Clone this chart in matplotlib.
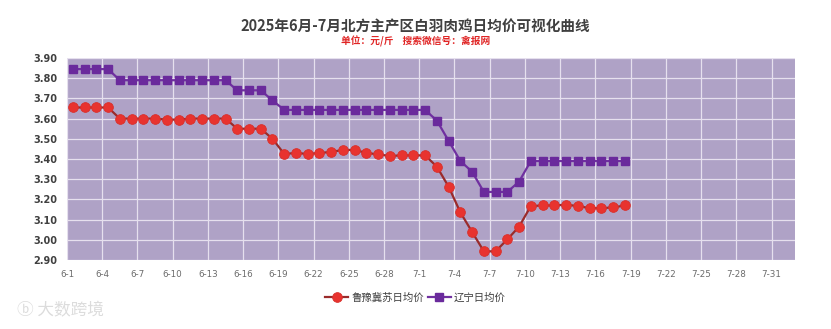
import matplotlib.pyplot as plt
import numpy as np
import pandas as pd

plt.rcParams['font.family'] = ['Noto Sans CJK SC', 'DejaVu Sans']

# axis covers 6-1 .. 7-31, one category per day
axis_start = '2025-06-01'
axis_end = '2025-07-31'

# daily prices from 6-1 to 7-18, yuan per jin
lu_yu_ji_su = [3.655, 3.655, 3.655, 3.655, 3.60, 3.60, 3.60, 3.60, 3.595, 3.595,
               3.60, 3.60, 3.60, 3.60, 3.55, 3.55, 3.55, 3.50, 3.425, 3.43,
               3.425, 3.43, 3.435, 3.445, 3.445, 3.43, 3.423, 3.415, 3.418, 3.418,
               3.418, 3.362, 3.263, 3.136, 3.039, 2.943, 2.943, 3.002, 3.065, 3.167,
               3.17, 3.17, 3.174, 3.167, 3.157, 3.157, 3.16, 3.17]
liaoning = [3.845, 3.845, 3.845, 3.845, 3.79, 3.79, 3.79, 3.79, 3.79, 3.79,
            3.79, 3.79, 3.79, 3.79, 3.74, 3.74, 3.74, 3.69, 3.643, 3.643,
            3.643, 3.643, 3.643, 3.643, 3.643, 3.643, 3.643, 3.643, 3.643, 3.643,
            3.643, 3.59, 3.49, 3.39, 3.337, 3.237, 3.237, 3.237, 3.288, 3.39,
            3.39, 3.39, 3.39, 3.39, 3.39, 3.39, 3.39, 3.39]

labels = ['鲁豫冀苏日均价', '辽宁日均价']

days = pd.date_range(axis_start, axis_end)
tick_labels = [f'{d.month}-{d.day}' for d in days]
n_cat = len(days)

fig = plt.figure(figsize=(8.31, 3.29), dpi=100)
ax = fig.add_axes([0.0806, 0.2097, 0.8761, 0.614])
ax.set_facecolor('#afa2c6')

x = np.arange(len(lu_yu_ji_su)) + 0.5
ax.plot(x, lu_yu_ji_su, color='#9a2b2b', lw=1.6, marker='o', ms=7,
        mfc='#e8332f', mec='#d8302c', mew=0.6, label=labels[0], zorder=3)
ax.plot(x, liaoning, color='#7030a0', lw=1.6, marker='s', ms=5.8,
        mfc='#6a2a9c', mec='#6a2a9c', label=labels[1], zorder=3)

ax.set_xlim(0, n_cat + 1)
ax.set_ylim(2.90, 3.90)
yvals = np.round(np.arange(2.90, 3.91, 0.10), 2)
ax.set_yticks(yvals)
ax.set_yticklabels([f'{v:.2f}' for v in yvals],
                   fontsize=7, fontweight='bold', color='#404040', family='DejaVu Sans')
ticks = list(range(0, n_cat, 3))
ax.set_xticks(ticks)
ax.set_xticklabels([tick_labels[i] for i in ticks], fontsize=6.3, color='#6b6b6b',
                   family='DejaVu Sans')
ax.tick_params(length=0, pad=7)
ax.tick_params(axis='y', pad=7)
ax.grid(True, color='#e6e0ee', lw=0.9)
ax.set_axisbelow(True)
for s in ax.spines.values():
    s.set_visible(False)

fig.text(0.5, 0.918, '2025年6月-7月北方主产区白羽肉鸡日均价可视化曲线', ha='center', va='center',
         fontsize=10.5, fontweight='bold', color='#404040')
fig.text(0.5, 0.873, '单位：元/斤    搜索微信号：禽报网', ha='center', va='center',
         fontsize=7, fontweight='bold', color='#e02525')

fig.legend(loc='center', bbox_to_anchor=(0.5, 0.095), ncol=2, frameon=False,
           fontsize=7.5, handlelength=2.2, columnspacing=0.4, handletextpad=0.3,
           labelcolor='#404040')

fig.text(0.02, 0.03, 'ⓑ 大数跨境', fontsize=12, color='#dcdcdc', ha='left', va='bottom')

fig.savefig('out.png', dpi=100, facecolor='white')
